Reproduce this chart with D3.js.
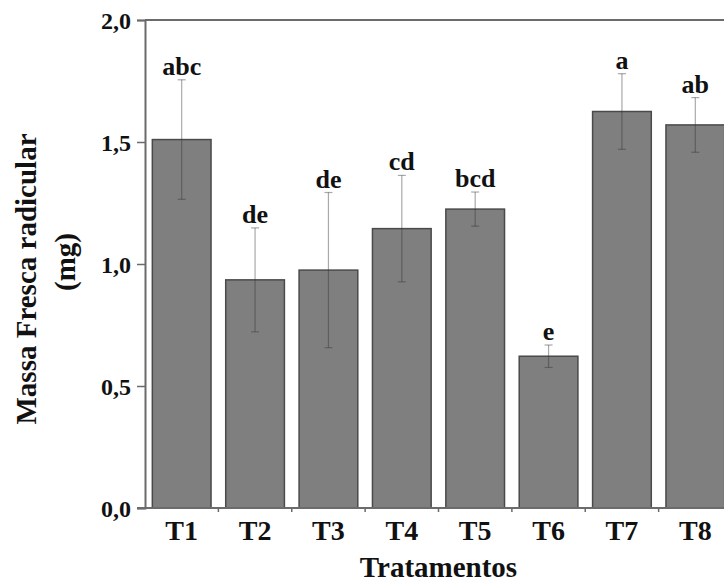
<!DOCTYPE html>
<html>
<head>
<meta charset="utf-8">
<script src="https://cdn.jsdelivr.net/npm/d3@7"></script>
<style>
  html, body { margin: 0; padding: 0; background: #fff; }
  svg { display: block; }
  text { font-family: "Liberation Serif", "Times New Roman", serif; font-weight: bold; fill: #111; }
</style>
</head>
<body>
<svg id="chart" width="724" height="583"></svg>
<script>
// ---- Data ----
const categories = ["T1", "T2", "T3", "T4", "T5", "T6", "T7", "T8"];
const means      = [1.51, 0.935, 0.975, 1.145, 1.225, 0.622, 1.625, 1.57];
const errors     = [0.245, 0.213, 0.318, 0.218, 0.07, 0.046, 0.155, 0.112];
const letters    = ["abc", "de", "de", "cd", "bcd", "e", "a", "ab"];
const yTicks     = [0, 0.5, 1.0, 1.5, 2.0];
const xTitle     = "Tratamentos";
const yTitle1    = "Massa Fresca radicular";
const yTitle2    = "(mg)";

// ---- Layout ----
const svg = d3.select("#chart");
const pLeft = 145, pRight = 732, pTop = 20, pBottom = 508;

const x = d3.scaleBand().domain(categories).range([pLeft, pRight])
  .paddingInner(0.2).paddingOuter(0.1);
const y = d3.scaleLinear().domain([0, 2]).range([pBottom, pTop]);

const axisColor = "#6b6b6b";

// bars
svg.append("g").selectAll("rect").data(categories).join("rect")
  .attr("x", d => x(d))
  .attr("y", (d, i) => y(means[i]))
  .attr("width", x.bandwidth())
  .attr("height", (d, i) => y(0) - y(means[i]))
  .attr("fill", "#7f7f7f")
  .attr("stroke", "#4a4a4a")
  .attr("stroke-width", 1.5);

// error bars
const eg = svg.append("g").attr("stroke", "#333").attr("stroke-opacity", 0.42).attr("stroke-width", 1.2);
categories.forEach((c, i) => {
  const cx = x(c) + x.bandwidth() / 2;
  const hi = y(means[i] + errors[i]), lo = y(means[i] - errors[i]);
  eg.append("line").attr("x1", cx).attr("x2", cx).attr("y1", hi).attr("y2", lo);
  eg.append("line").attr("x1", cx - 4).attr("x2", cx + 4).attr("y1", hi).attr("y2", hi);
  eg.append("line").attr("x1", cx - 4).attr("x2", cx + 4).attr("y1", lo).attr("y2", lo);
});

// significance letters
svg.append("g").selectAll("text").data(categories).join("text")
  .attr("x", d => x(d) + x.bandwidth() / 2)
  .attr("y", (d, i) => y(means[i] + errors[i]) - 5)
  .attr("text-anchor", "middle")
  .attr("font-size", 26)
  .text((d, i) => letters[i]);

// frame top line
svg.append("line").attr("x1", pLeft).attr("x2", pRight).attr("y1", pTop).attr("y2", pTop)
  .attr("stroke", axisColor).attr("stroke-width", 2);

// y axis
const yAxis = d3.axisLeft(y).tickValues(yTicks)
  .tickFormat(d => d3.format(".1f")(d).replace(".", ","))
  .tickSize(8).tickPadding(6);
const yg = svg.append("g").attr("transform", `translate(${pLeft},0)`).call(yAxis);
yg.select(".domain").attr("stroke", axisColor).attr("stroke-width", 2);
yg.selectAll(".tick line").attr("stroke", axisColor).attr("stroke-width", 1.5);
yg.selectAll(".tick text").attr("font-size", 24).attr("fill", "#111")
  .attr("font-family", "Liberation Serif").attr("font-weight", "bold").attr("dy", "0.35em");

// x axis
const xAxis = d3.axisBottom(x).tickSize(0).tickPadding(12);
const xg = svg.append("g").attr("transform", `translate(0,${pBottom})`).call(xAxis);
xg.select(".domain").attr("d", `M${pLeft - 8},0H${pRight}`).attr("stroke", axisColor).attr("stroke-width", 2);
xg.selectAll(".tick text").attr("font-size", 28).attr("fill", "#111")
  .attr("font-family", "Liberation Serif").attr("font-weight", "bold").attr("dy", "0.71em");
// boundary ticks between categories
const step = x.step();
xg.append("g").selectAll("line").data(d3.range(1, categories.length)).join("line")
  .attr("x1", k => pLeft + k * step).attr("x2", k => pLeft + k * step)
  .attr("y1", 0).attr("y2", 4)
  .attr("stroke", axisColor).attr("stroke-width", 1.5);

// axis titles
svg.append("text").attr("x", (pLeft + pRight) / 2).attr("y", 577)
  .attr("text-anchor", "middle").attr("font-size", 29).text(xTitle);
svg.append("text").attr("transform", "translate(36,279) rotate(-90)")
  .attr("text-anchor", "middle").attr("font-size", 29).text(yTitle1);
svg.append("text").attr("transform", "translate(75,262) rotate(-90)")
  .attr("text-anchor", "middle").attr("font-size", 29).text(yTitle2);
</script>
</body>
</html>
